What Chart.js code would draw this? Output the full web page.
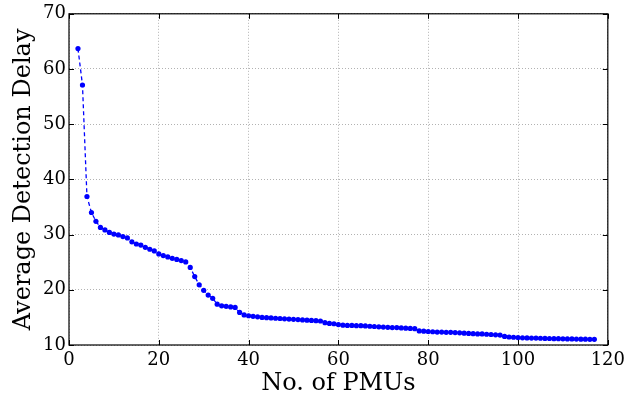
<!DOCTYPE html>
<html>
<head>
<meta charset="utf-8">
<script src="https://cdn.jsdelivr.net/npm/chart.js@4/dist/chart.umd.min.js"></script>
<style>
  html, body { margin: 0; padding: 0; background: #fff; }
  #wrap { width: 630px; height: 398px; position: relative; }
</style>
</head>
<body>
<div id="wrap"><canvas id="c" width="630" height="398"></canvas></div>
<script>
const numPMUs = [2,3,4,5,6,7,8,9,10,11,12,13,14,15,16,17,18,19,20,
  21,22,23,24,25,26,27,28,29,30,31,32,33,34,35,36,37,38,39,40,
  41,42,43,44,45,46,47,48,49,50,51,52,53,54,55,56,57,58,59,60,
  61,62,63,64,65,66,67,68,69,70,71,72,73,74,75,76,77,78,79,80,
  81,82,83,84,85,86,87,88,89,90,91,92,93,94,95,96,97,98,99,100,
  101,102,103,104,105,106,107,108,109,110,111,112,113,114,115,116,117];
const avgDelay = [63.7,57.1,36.9,34.0,32.4,31.3,30.85,30.4,30.1,29.95,29.65,29.4,28.7,28.3,28.1,27.7,27.35,27.05,26.5,
  26.2,25.95,25.7,25.5,25.3,25.05,24.05,22.4,20.9,19.9,19.05,18.45,17.4,17.1,17.0,16.9,16.8,15.9,15.45,15.3,
  15.2,15.1,15.0,14.95,14.9,14.85,14.8,14.75,14.7,14.65,14.6,14.55,14.5,14.45,14.4,14.35,14.05,13.9,13.85,13.7,
  13.6,13.55,13.55,13.5,13.5,13.45,13.4,13.35,13.3,13.25,13.2,13.15,13.15,13.1,13.05,13.0,12.95,12.55,12.5,12.45,
  12.4,12.35,12.35,12.3,12.3,12.25,12.2,12.15,12.1,12.05,12.0,12.0,11.95,11.9,11.85,11.8,11.55,11.45,11.4,11.35,
  11.3,11.28,11.25,11.25,11.22,11.2,11.18,11.15,11.15,11.12,11.1,11.1,11.08,11.05,11.05,11.03,11.02];
const xTicks = [0,20,40,60,80,100,120];
const yTicks = [10,20,30,40,50,60,70];
const xTitle = 'No. of PMUs';
const yTitle = 'Average Detection Delay';

const FONT = "'DejaVu Serif', 'Liberation Serif', serif";

const boxPlugin = {
  id: 'box',
  afterDraw(chart) {
    const {ctx, chartArea: a, scales: {x, y}} = chart;
    ctx.save();
    ctx.setLineDash([]);
    ctx.strokeStyle = '#000';
    ctx.lineWidth = 1.2;
    ctx.strokeRect(a.left, a.top, a.right - a.left, a.bottom - a.top);
    ctx.lineWidth = 1;
    const L = 5;
    ctx.beginPath();
    xTicks.forEach(v => {
      const px = Math.round(x.getPixelForValue(v)) + 0.5;
      ctx.moveTo(px, a.bottom); ctx.lineTo(px, a.bottom - L);
      ctx.moveTo(px, a.top); ctx.lineTo(px, a.top + L);
    });
    yTicks.forEach(v => {
      const py = Math.round(y.getPixelForValue(v)) + 0.5;
      ctx.moveTo(a.left, py); ctx.lineTo(a.left + L, py);
      ctx.moveTo(a.right, py); ctx.lineTo(a.right - L, py);
    });
    ctx.stroke();
    ctx.restore();
  }
};

new Chart(document.getElementById('c'), {
  type: 'line',
  data: {
    datasets: [{
      data: numPMUs.map((n, i) => ({x: n, y: avgDelay[i]})),
      borderColor: '#0000ff',
      backgroundColor: '#0000ff',
      borderWidth: 1.3,
      borderDash: [4, 3],
      pointRadius: 2.6,
      pointBorderWidth: 0,
      pointBackgroundColor: '#0000ff',
      tension: 0,
      fill: false
    }]
  },
  options: {
    responsive: false,
    animation: false,
    layout: { padding: { top: 13, right: 21, left: 0, bottom: 0 } },
    plugins: { legend: { display: false }, tooltip: { enabled: false } },
    scales: {
      x: {
        type: 'linear',
        min: 0, max: 120,
        afterBuildTicks: s => { s.ticks = xTicks.map(v => ({value: v})); },
        afterFit: s => { s.height = 53; },
        ticks: { color: '#000', padding: 5, maxRotation: 0, font: { family: FONT, size: 18 } },
        grid: { color: 'rgba(0,0,0,0.3)', drawTicks: false, lineWidth: 1 },
        border: { display: false, dash: [1, 2] },
        title: { display: true, text: xTitle, color: '#000', padding: { top: 2, bottom: 0 }, font: { family: FONT, size: 24 } }
      },
      y: {
        type: 'linear',
        min: 10, max: 70,
        afterBuildTicks: s => { s.ticks = yTicks.map(v => ({value: v})); },
        afterFit: s => { s.width = 69; },
        ticks: { color: '#000', padding: 3, font: { family: FONT, size: 18 } },
        grid: { color: 'rgba(0,0,0,0.3)', drawTicks: false, lineWidth: 1 },
        border: { display: false, dash: [1, 2] },
        title: { display: true, text: yTitle, color: '#000', padding: { top: 9, bottom: 0 }, font: { family: FONT, size: 24 } }
      }
    }
  },
  plugins: [boxPlugin]
});
</script>
</body>
</html>
